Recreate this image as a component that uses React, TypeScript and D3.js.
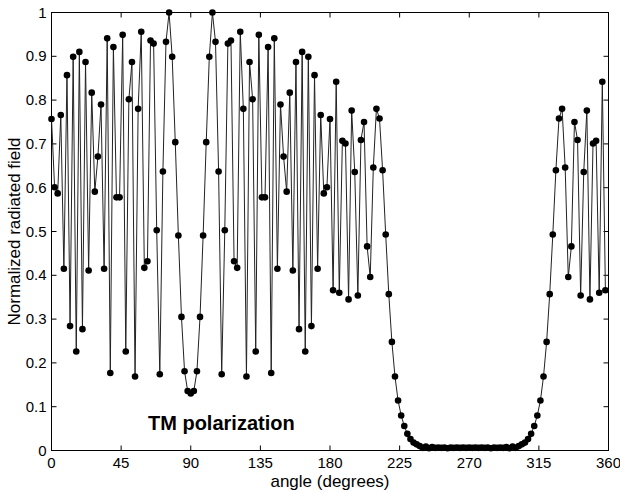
import React from "react";
import * as d3 from "d3";

const angles: number[] = d3.range(0, 360, 2);

const field: number[] = [
  // 0..90
  0.757, 0.601, 0.587, 0.766, 0.415, 0.857, 0.284, 0.899, 0.226, 0.910,
  0.277, 0.887, 0.411, 0.817, 0.591, 0.671, 0.790, 0.415, 0.941, 0.177,
  0.921, 0.578, 0.578, 0.949, 0.226, 0.802, 0.887, 0.169, 0.780, 0.956,
  0.417, 0.432, 0.936, 0.929, 0.503, 0.174, 0.637, 0.933, 1.0, 0.899,
  0.704, 0.491, 0.305, 0.181, 0.136, 0.130,
  // 92..178
  0.136, 0.181, 0.305, 0.491, 0.704, 0.899, 1.0, 0.933, 0.637, 0.174,
  0.503, 0.929, 0.936, 0.432, 0.417, 0.956, 0.780, 0.169, 0.887, 0.802,
  0.226, 0.949, 0.578, 0.578, 0.921, 0.177, 0.941, 0.415, 0.790, 0.671,
  0.591, 0.817, 0.411, 0.887, 0.277, 0.910, 0.226, 0.899, 0.284, 0.857,
  0.415, 0.766, 0.587, 0.601,
  // 180..270
  0.757, 0.366, 0.842, 0.360, 0.707, 0.701, 0.345, 0.776, 0.636, 0.354,
  0.709, 0.750, 0.466, 0.396, 0.646, 0.780, 0.758, 0.640, 0.493, 0.357,
  0.248, 0.169, 0.114, 0.080, 0.056, 0.038, 0.026, 0.018, 0.014, 0.010,
  0.006, 0.009, 0.005, 0.008, 0.006, 0.007, 0.006, 0.007, 0.005, 0.007,
  0.006, 0.007, 0.006, 0.007, 0.006, 0.007,
  // 272..358
  0.006, 0.007, 0.006, 0.007, 0.006, 0.007, 0.005, 0.007, 0.006, 0.007,
  0.006, 0.008, 0.005, 0.009, 0.006, 0.010, 0.014, 0.018, 0.026, 0.038,
  0.056, 0.080, 0.114, 0.169, 0.248, 0.357, 0.493, 0.640, 0.758, 0.780,
  0.646, 0.396, 0.466, 0.750, 0.709, 0.354, 0.636, 0.776, 0.345, 0.701,
  0.707, 0.360, 0.842, 0.366,
];

const xTicks: number[] = [0, 45, 90, 135, 180, 225, 270, 315, 360];
const yTicks: number[] = [0, 0.1, 0.2, 0.3, 0.4, 0.5, 0.6, 0.7, 0.8, 0.9, 1];
const yTickLabels: string[] = ["0", "0.1", "0.2", "0.3", "0.4", "0.5", "0.6", "0.7", "0.8", "0.9", "1"];

const W = 620;
const H = 492;
const L = 51.5;
const R = 608.5;
const T = 12.5;
const B = 450.5;

export default function App() {
  const x = d3.scaleLinear().domain([0, 360]).range([L, R]);
  const y = d3.scaleLinear().domain([0, 1]).range([B, T]);
  const pts = angles.map((a, i) => [a, field[i]] as [number, number]);
  const line = d3
    .line<[number, number]>()
    .x((d) => x(d[0]))
    .y((d) => y(d[1]));
  const font = "'Liberation Sans', Arial, Helvetica, sans-serif";
  const tl = 5;
  return (
    <svg
      width={W}
      height={H}
      style={{ position: "absolute", left: 0, top: 0, background: "#fff" }}
      fontFamily={font}
    >
      <rect x={0} y={0} width={W} height={H} fill="#fff" />
      {xTicks.map((t) => (
        <g key={"xt" + t}>
          <line x1={x(t)} x2={x(t)} y1={B} y2={B - tl} stroke="#000" strokeWidth={1} />
          <line x1={x(t)} x2={x(t)} y1={T} y2={T + tl} stroke="#000" strokeWidth={1} />
          <text x={x(t)} y={B + 17} fontSize={15} textAnchor="middle" fill="#000">
            {t}
          </text>
        </g>
      ))}
      {yTicks.map((t, i) => (
        <g key={"yt" + t}>
          <line x1={L} x2={L + tl} y1={y(t)} y2={y(t)} stroke="#000" strokeWidth={1} />
          <line x1={R} x2={R - tl} y1={y(t)} y2={y(t)} stroke="#000" strokeWidth={1} />
          <text x={L - 5} y={y(t) + 5} fontSize={15} textAnchor="end" fill="#000">
            {yTickLabels[i]}
          </text>
        </g>
      ))}
      <rect x={L} y={T} width={R - L} height={B - T} fill="none" stroke="#000" strokeWidth={1} />
      <path d={line(pts) || ""} fill="none" stroke="#222" strokeWidth={1} />
      {pts.map((d, i) => (
        <circle key={i} cx={x(d[0])} cy={y(d[1])} r={3.3} fill="#000" />
      ))}
      <text x={148} y={430} fontSize={20} fontWeight="bold" fill="#000">
        TM polarization
      </text>
      <text x={(L + R) / 2} y={487} fontSize={17} textAnchor="middle" fill="#000">
        angle (degrees)
      </text>
      <text
        transform={`translate(20, ${(T + B) / 2}) rotate(-90)`}
        fontSize={17}
        textAnchor="middle"
        fill="#000"
      >
        Normalized radiated field
      </text>
    </svg>
  );
}
